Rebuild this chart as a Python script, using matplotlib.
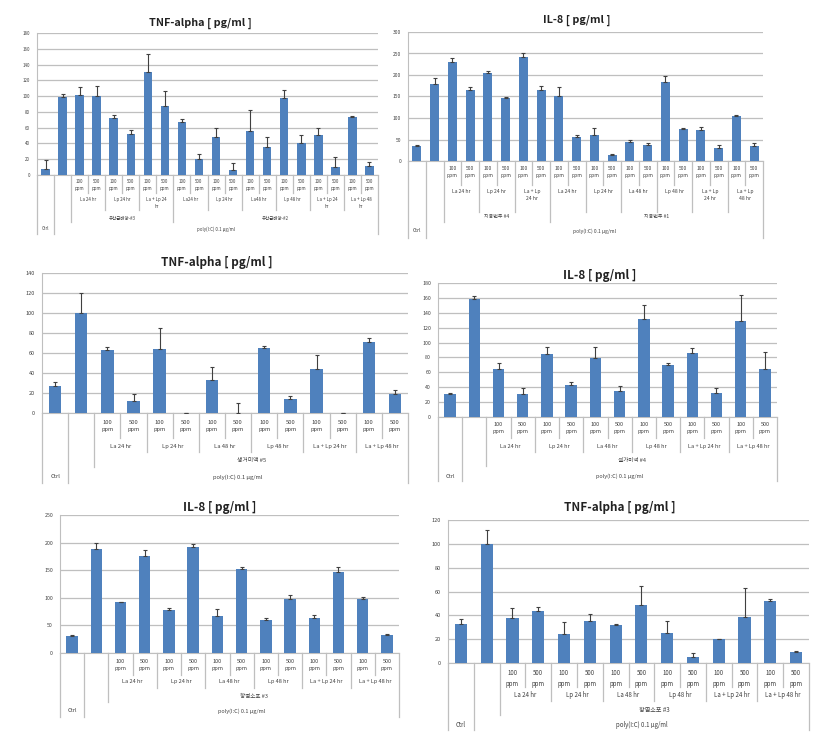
import matplotlib
matplotlib.use("Agg")
import matplotlib.pyplot as plt
from matplotlib.lines import Line2D
import numpy as np

plt.rcParams['font.family'] = ['Noto Sans CJK KR', 'DejaVu Sans']

W, H = 832, 747

# ---------------- data ----------------
ppm_labels = ["100\nppm", "500\nppm"]
ctrl_label = "Ctrl"
poly_label = "poly(I:C) 0.1 μg/ml"

# Panel 1: TNF-alpha (top-left)
p1_vals = [7, 99, 101, 100, 72, 52, 130, 88, 67, 20, 48, 6, 56, 36, 98, 40, 51, 10, 74, 12]
p1_errs = [12, 4, 11, 13, 4, 5, 24, 19, 4, 6, 12, 9, 26, 12, 10, 11, 8, 13, 1, 4]
p1_groups = [("유산균배양-#3", ["La 24 hr", "Lp 24 hr", "La + Lp 24\nhr"]),
             ("유산균배양-#2", ["La24 hr", "Lp 24 hr", "La48 hr", "Lp 48 hr",
                              "La + Lp 24\nhr", "La + Lp 48\nhr"])]

# Panel 2: IL-8 (top-right)
p2_vals = [36, 178, 231, 165, 204, 146, 241, 165, 151, 55, 61, 13, 45, 38, 183, 75, 71, 31, 105, 34]
p2_errs = [1, 15, 9, 8, 6, 3, 11, 10, 21, 5, 15, 4, 4, 3, 14, 1, 8, 6, 3, 8]
p2_groups = [("지용번주 #4", ["La 24 hr", "Lp 24 hr", "La + Lp\n24 hr"]),
             ("지용번주 #1", ["La 24 hr", "Lp 24 hr", "La 48 hr", "Lp 48 hr",
                            "La + Lp\n24 hr", "La + Lp\n48 hr"])]

six_treat = ["La 24 hr", "Lp 24 hr", "La 48 hr", "Lp 48 hr", "La + Lp 24 hr", "La + Lp 48 hr"]

# Panel 3: TNF-alpha (middle-left)
p3_vals = [27, 100, 63, 12, 64, 0, 33, 0, 65, 14, 44, 0, 71, 19]
p3_errs = [4, 20, 3, 7, 21, 0, 13, 10, 2, 3, 14, 0, 4, 4]
p3_groups = [("생거미액 #5", six_treat)]

# Panel 4: IL-8 (middle-right)
p4_vals = [31, 159, 65, 31, 84, 43, 79, 35, 131, 70, 86, 32, 129, 65]
p4_errs = [1, 3, 8, 8, 10, 4, 15, 6, 19, 3, 7, 7, 35, 22]
p4_groups = [("셀가미액 #4", six_treat)]

# Panel 5: IL-8 (bottom-left)
p5_vals = [30, 188, 92, 176, 77, 192, 67, 152, 59, 97, 63, 146, 97, 33]
p5_errs = [3, 11, 1, 10, 5, 6, 13, 4, 4, 8, 5, 10, 4, 1]
p5_groups = [("항염소포 #3", six_treat)]

# Panel 6: TNF-alpha (bottom-right)
p6_vals = [33, 100, 38, 44, 24, 35, 32, 49, 25, 5, 20, 39, 52, 9.5]
p6_errs = [4, 12, 8, 3, 10, 6, 1, 16, 10, 3, 0.3, 24, 2, 0.5]
p6_groups = [("항염소포 #3", six_treat)]

# ---------------- drawing ----------------
fig = plt.figure(figsize=(W / 100, H / 100), dpi=100)

BAR = '#4f81bd'
GRID = '#bfbfbf'
TXT = '#404040'


def fx(x):
    return x / W


def fy(y):
    return 1 - y / H


def vline(x, y0, y1):
    fig.add_artist(Line2D([fx(x), fx(x)], [fy(y0), fy(y1)], color=GRID, lw=0.9,
                          transform=fig.transFigure))


def panel(box, title, tpos, tfs, vals, errs, ymax, ystep, tick_fs, groups,
          rows, bottoms, lab_fs, bw=0.47):
    x0, yt, x1, yb = box
    ax = fig.add_axes([fx(x0), fy(yb), fx(x1) - fx(x0), fy(yt) - fy(yb)])
    n = len(vals)
    x = np.arange(n)
    ax.bar(x, vals, width=bw, color=BAR, zorder=3)
    ax.errorbar(x, vals, yerr=[np.zeros(n), errs], fmt='none', ecolor='#404040',
                elinewidth=0.8, capsize=1.5, capthick=0.8, zorder=4)
    ax.set_xlim(-0.5, n - 0.5)
    ax.set_ylim(0, ymax)
    ax.set_yticks(np.arange(0, ymax + 0.1, ystep))
    ax.tick_params(axis='y', length=0, labelsize=tick_fs, labelcolor=TXT, pad=5)
    ax.set_xticks([])
    ax.yaxis.grid(True, color=GRID, lw=0.9, zorder=0)
    ax.set_axisbelow(True)
    for s in ['top', 'right']:
        ax.spines[s].set_visible(False)
    ax.spines['left'].set_color(GRID)
    ax.spines['bottom'].set_color(GRID)
    ax.patch.set_alpha(0)
    fig.text(fx(tpos[0]), fy(tpos[1]), title, ha='center', va='center',
             fontsize=tfs, color='#222222', fontweight='bold')

    w = (x1 - x0) / n
    ppm_y, treat_y, group_y, poly_y = rows
    ppm_b, treat_b, group_b, full_b = bottoms

    def cx(i):
        return x0 + (i + 0.5) * w

    def bx(k):
        return x0 + k * w

    for k in (0, 1, n):
        vline(bx(k), yb, full_b)
    vline(bx(2), yb, group_b)
    fig.text(fx(cx(0)), fy(poly_y), ctrl_label, ha='center', va='center',
             fontsize=lab_fs, color=TXT)
    fig.text(fx((bx(1) + bx(n)) / 2), fy(poly_y), poly_label, ha='center',
             va='center', fontsize=lab_fs, color=TXT)
    slot = 2
    for gi, (gname, treats) in enumerate(groups):
        gstart = slot
        for ti, tname in enumerate(treats):
            for j in range(2):
                fig.text(fx(cx(slot + j)), fy(ppm_y), ppm_labels[j], ha='center',
                         va='top', fontsize=lab_fs, color=TXT, linespacing=1.5)
            vline(bx(slot + 1), yb, ppm_b)
            fig.text(fx(bx(slot + 1)), fy(treat_y), tname, ha='center', va='top',
                     fontsize=lab_fs, color=TXT, linespacing=1.5)
            slot += 2
            if slot < n:
                if ti == len(treats) - 1:
                    vline(bx(slot), yb, group_b)
                else:
                    vline(bx(slot), yb, treat_b)
        fig.text(fx((bx(gstart) + bx(slot)) / 2), fy(group_y), gname, ha='center',
                 va='center', fontsize=lab_fs, color=TXT)
    return ax


panel((37, 33, 378, 175), "TNF-alpha [ pg/ml ]", (200, 23), 7.8,
      p1_vals, p1_errs, 180, 20, 3.2, p1_groups,
      (179, 197, 218, 229), (193, 210, 222, 234), 3.2, bw=0.5)
panel((408, 32, 763, 161), "IL-8 [ pg/ml ]", (577, 20), 7.8,
      p2_vals, p2_errs, 300, 50, 3.6, p2_groups,
      (166, 189, 217, 231), (185, 212, 222, 238), 3.6, bw=0.5)
panel((42, 273, 408, 413), "TNF-alpha [ pg/ml ]", (217, 263), 8.5,
      p3_vals, p3_errs, 140, 20, 4, p3_groups,
      (420, 444, 461, 477), (438, 452, 467, 483), 4.2)
panel((438, 283, 777, 417), "IL-8 [ pg/ml ]", (600, 275), 8.5,
      p4_vals, p4_errs, 180, 20, 3.8, p4_groups,
      (422, 444, 461, 476), (438, 452, 466, 481), 4)
panel((60, 515, 399, 653), "IL-8 [ pg/ml ]", (220, 507), 8.5,
      p5_vals, p5_errs, 250, 50, 3.8, p5_groups,
      (659, 679, 696, 711), (675, 688, 702, 717), 4)
panel((448, 520, 809, 663), "TNF-alpha [ pg/ml ]", (620, 508), 8.5,
      p6_vals, p6_errs, 120, 20, 4, p6_groups,
      (669, 691, 710, 725), (687, 701, 715, 730), 4.4)

fig.savefig("out.png", dpi=100)
